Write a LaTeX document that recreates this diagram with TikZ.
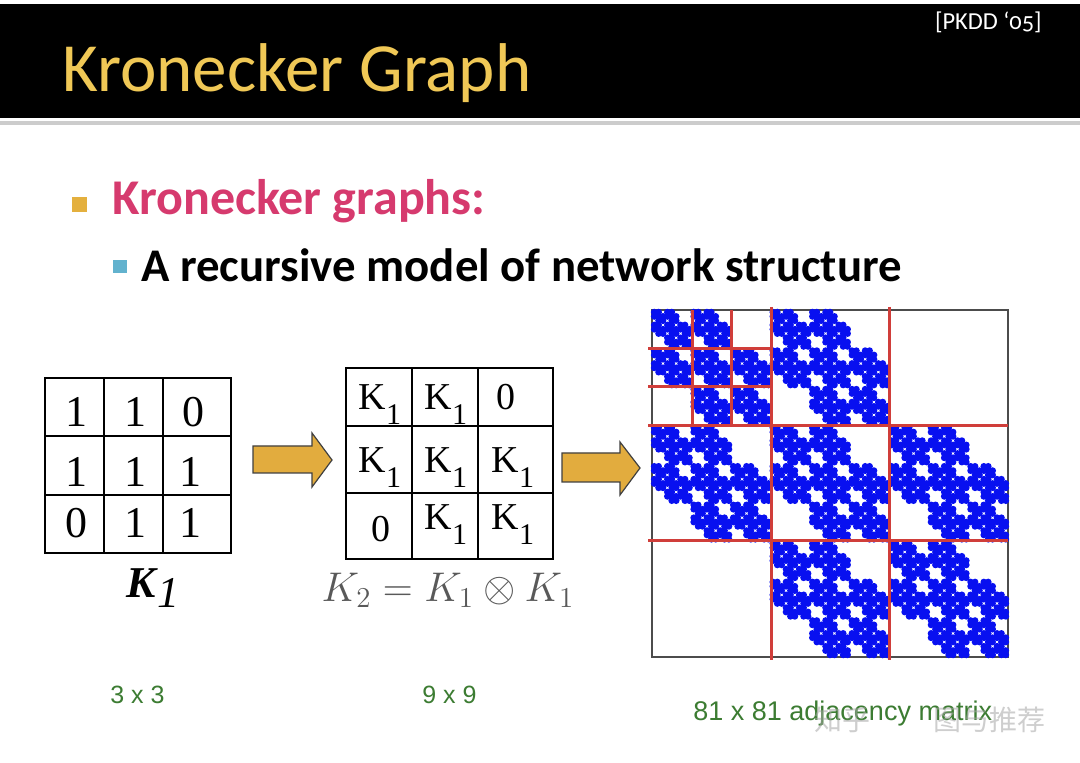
\documentclass[tikz,border=0pt]{standalone}
\usepackage{fontspec}
\setmainfont{Carlito}
\newfontfamily\timesfont{Liberation Serif}
\newfontfamily\arialfont{Liberation Sans}
\newfontfamily\cjkfont{Noto Sans CJK SC}
\newfontfamily\pkddfont[Numbers=OldStyle]{Carlito}

\definecolor{titlegold}{RGB}{240,200,86}
\definecolor{headpink}{RGB}{214,58,110}
\definecolor{bulletgold}{RGB}{228,176,62}
\definecolor{bulletblue}{RGB}{98,178,206}
\definecolor{arrowgold}{RGB}{226,172,62}
\definecolor{sizegreen}{RGB}{60,124,50}
\definecolor{gridred}{RGB}{208,62,58}
\definecolor{dotblue}{RGB}{8,16,240}

% K with its low subscript 1, as in the middle matrix
\newcommand{\Kone}{K\raisebox{-7.5pt}{\fontsize{15}{15}\selectfont 1}}
\def\kpairs{0/0,0/1,1/0,1/1,1/2,2/1,2/2}

\begin{document}
\begin{tikzpicture}[x=0.5pt,y=-0.5pt,inner sep=0pt,
        cellnum/.style={anchor=base,font=\timesfont\fontsize{22}{22}\selectfont},
        kentry/.style={anchor=base,font=\timesfont\fontsize{19}{19}\selectfont},
        sizelabel/.style={anchor=base west,text=sizegreen,font=\arialfont\fontsize{12.5}{12.5}\selectfont},
        goldarrow/.style={fill=arrowgold,draw=black!75,line width=0.6pt},
        redline/.style={draw=gridred,line width=1.5pt}]
        % slide and header band
        \fill[white] (0,0) rectangle (1080,763);
        \fill[black] (0,4) rectangle (1080,118);
        \fill[gray!40] (0,121) rectangle (1080,125);
        \node[anchor=base west,text=titlegold,font=\fontsize{34.5}{34.5}\selectfont] (title) at (62,92) {Kronecker Graph};
        \node[anchor=base east,text=white,font=\pkddfont\fontsize{12.2}{12.2}\selectfont] (cite) at (1042,30) {[PKDD ‘05]};

        % bullets
        \fill[bulletgold] (72,197) rectangle (87,212);
        \node[anchor=base west,text=headpink,font=\bfseries\fontsize{25}{25}\selectfont] (head) at (112,215) {Kronecker graphs:};
        \fill[bulletblue] (113,260) rectangle (127,273);
        \node[anchor=base west,font=\bfseries\fontsize{23.4}{23.4}\selectfont] (sub) at (141,282) {A recursive model of network structure};

        % K1
        \draw[line width=1.1pt] (45,378) rectangle (231,553);
        \draw[line width=1.1pt] (104,378) -- (104,553) (163,378) -- (163,553)
                (45,436) -- (231,436) (45,495) -- (231,495);
        \foreach \x/\y/\v [count=\n] in {76/427/1, 135/427/1, 193/427/0,
                        76/487/1, 135/487/1, 190/487/1,
                        76/538/0, 135/538/1, 190/538/1} {
                \node[cellnum] (a\n) at (\x,\y) {\v};
            }
        \node[anchor=base,font=\timesfont\fontsize{22}{22}\selectfont] (k1label) at (153,597) {\textbf{\textit{K}}\raisebox{-5pt}{\textit{1}}};

        % K2 = K1 x K1
        \draw[line width=1.1pt] (346,368) rectangle (553,559);
        \draw[line width=1.1pt] (412,368) -- (412,559) (478,368) -- (478,559)
                (346,426) -- (553,426) (346,493) -- (553,493);
        \foreach \x/\y/\v [count=\n] in {380/410/\Kone, 446/410/\Kone, 506/410/0,
                        380/473/\Kone, 446/473/\Kone, 513/473/\Kone,
                        381/542/0, 446/530/\Kone, 513/530/\Kone} {
                \node[kentry] (b\n) at (\x,\y) {\v};
            }
        \node[anchor=base,text=black!65,font=\fontsize{19.5}{19.5}\selectfont] (k2label) at (448,601) {$K_2 = K_1 \otimes K_1$};

        % arrows
        \draw[goldarrow] (253,446) -- (312,446) -- (312,433) -- (332,460) -- (312,487) -- (312,473) -- (253,473) -- cycle;
        \draw[goldarrow] (562,453) -- (620,453) -- (620,442) -- (640,468) -- (620,495) -- (620,482) -- (562,482) -- cycle;

        % 81 x 81 adjacency matrix
        \draw[black!70,line width=0.6pt] (652,310) rectangle (1008,657);
        \foreach \ra/\ca in \kpairs {
                \foreach \rb/\cb in \kpairs {
                        \foreach \rc/\cc in \kpairs {
                                \foreach \rd/\cd in \kpairs {
                                        \fill[dotblue] ({652+(27*\ca+9*\cb+3*\cc+\cd+0.5)*4.395},{310+(27*\ra+9*\rb+3*\rc+\rd+0.5)*4.284}) circle (1.7pt);
                                    }
                            }
                    }
            }
        \draw[redline] (771,307) -- (771,660) (889,307) -- (889,660)
                (648,426) -- (1008,426) (648,541) -- (1008,541);
        \draw[redline] (692,310) -- (692,426) (731,310) -- (731,426)
                (648,349) -- (771,349) (648,387) -- (771,387);

        % sizes
        \node[sizelabel] (s1) at (110,703) {3 x 3};
        \node[sizelabel] (s2) at (422,703) {9 x 9};
        \node[sizelabel,font=\arialfont\fontsize{13.5}{13.5}\selectfont] (s3) at (693,720) {81 x 81 adjacency matrix};

        % watermark
        \node[anchor=base west,text=gray!70,opacity=0.55,font=\cjkfont\fontsize{14}{14}\selectfont] (wm1) at (814,730) {知乎};
        \node[anchor=base west,text=gray!70,opacity=0.55,font=\cjkfont\fontsize{14}{14}\selectfont] (wm2) at (933,730) {图与推荐};
    \end{tikzpicture}
\end{document}
